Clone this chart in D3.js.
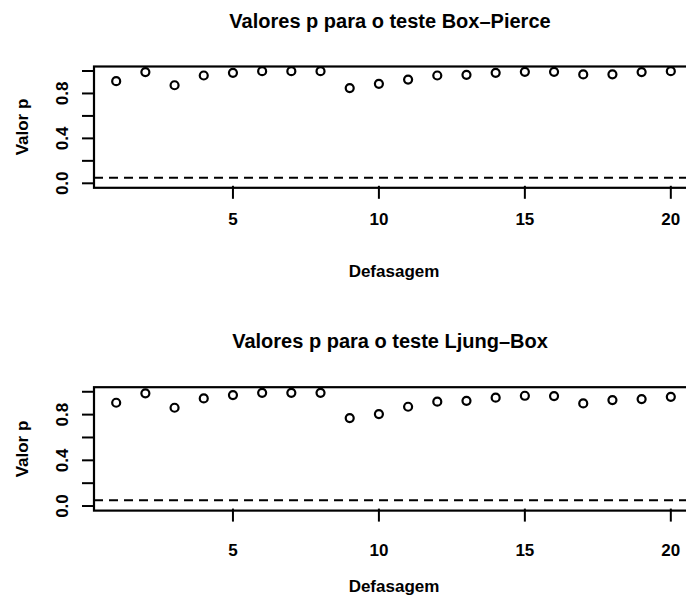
<!DOCTYPE html>
<html>
<head>
<meta charset="utf-8">
<script src="https://cdn.jsdelivr.net/npm/d3@7"></script>
<style>
  html, body { margin: 0; padding: 0; background: #fff; }
  svg { display: block; }
  text { font-family: "Liberation Sans", Arial, sans-serif; font-weight: bold; fill: #000; }
</style>
</head>
<body>
<svg id="chart" width="686" height="597"></svg>
<script>
// ---- data ----
const lags = [1,2,3,4,5,6,7,8,9,10,11,12,13,14,15,16,17,18,19,20];
const boxPierce = [0.909,0.990,0.873,0.960,0.984,0.998,0.998,0.998,0.848,0.886,0.924,0.960,0.966,0.984,0.993,0.993,0.969,0.970,0.990,0.998];
const ljungBox  = [0.904,0.986,0.860,0.942,0.971,0.991,0.991,0.991,0.770,0.805,0.869,0.913,0.921,0.948,0.965,0.962,0.898,0.927,0.936,0.956];
const xTicks = [5,10,15,20];
const yTicks = [0,0.2,0.4,0.6,0.8,1.0];
const yTickLabels = {0: "0.0", 0.4: "0.4", 0.8: "0.8"};
const titles = ["Valores p para o teste Box\u2013Pierce", "Valores p para o teste Ljung\u2013Box"];
const xLabel = "Defasagem";
const yLabel = "Valor p";
const threshold = 0.05;

// ---- layout ----
const svg = d3.select("#chart");
const panels = [
  { values: boxPierce, title: titles[0], top: 66.5, bottom: 187.8, titleY: 28, tickLabY: 225, xLabY: 277, yLabCenter: 127 },
  { values: ljungBox,  title: titles[1], top: 387.2, bottom: 510.6, titleY: 348, tickLabY: 556, xLabY: 592, yLabCenter: 449 }
];

const x = d3.scaleLinear().domain([0.24, 20.76]).range([94, 693]);

panels.forEach(p => {
  const y = d3.scaleLinear().domain([-0.04, 1.04]).range([p.bottom, p.top]);
  const g = svg.append("g");

  // title
  g.append("text")
    .attr("x", 390).attr("y", p.titleY)
    .attr("text-anchor", "middle")
    .style("font-size", "20px")
    .text(p.title);

  // box
  g.append("rect")
    .attr("x", x.range()[0]).attr("y", p.top)
    .attr("width", x.range()[1] - x.range()[0])
    .attr("height", p.bottom - p.top)
    .attr("fill", "none").attr("stroke", "#000").attr("stroke-width", 2.2);

  // y axis ticks
  g.selectAll(".yt").data(yTicks).enter().append("line")
    .attr("x1", x.range()[0] - 12).attr("x2", x.range()[0])
    .attr("y1", d => y(d)).attr("y2", d => y(d))
    .attr("stroke", "#000").attr("stroke-width", 2);
  // y tick labels (rotated)
  g.selectAll(".ytl").data(yTicks.filter(d => yTickLabels[d] !== undefined)).enter().append("text")
    .attr("transform", d => `translate(68,${y(d)}) rotate(-90)`)
    .attr("text-anchor", "middle")
    .style("font-size", "17px")
    .text(d => yTickLabels[d]);
  // y label
  g.append("text")
    .attr("transform", `translate(28,${p.yLabCenter}) rotate(-90)`)
    .attr("text-anchor", "middle")
    .style("font-size", "17px")
    .text(yLabel);

  // x ticks
  g.selectAll(".xt").data(xTicks).enter().append("line")
    .attr("x1", d => x(d)).attr("x2", d => x(d))
    .attr("y1", p.bottom - 2).attr("y2", p.bottom + 11)
    .attr("stroke", "#000").attr("stroke-width", 2);
  g.selectAll(".xtl").data(xTicks).enter().append("text")
    .attr("x", d => x(d)).attr("y", p.tickLabY)
    .attr("text-anchor", "middle")
    .style("font-size", "17px")
    .text(d => d);
  // x label
  g.append("text")
    .attr("x", 394).attr("y", p.xLabY)
    .attr("text-anchor", "middle")
    .style("font-size", "17px")
    .text(xLabel);

  // dashed threshold line
  g.append("line")
    .attr("x1", x.range()[0]).attr("x2", x.range()[1])
    .attr("y1", y(threshold)).attr("y2", y(threshold))
    .attr("stroke", "#000").attr("stroke-width", 2)
    .attr("stroke-dasharray", "9,6");

  // points
  g.selectAll(".pt").data(lags).enter().append("circle")
    .attr("cx", (d) => x(d))
    .attr("cy", (d, i) => y(p.values[i]))
    .attr("r", 4)
    .attr("fill", "none").attr("stroke", "#000").attr("stroke-width", 2.2);
});
</script>
</body>
</html>
